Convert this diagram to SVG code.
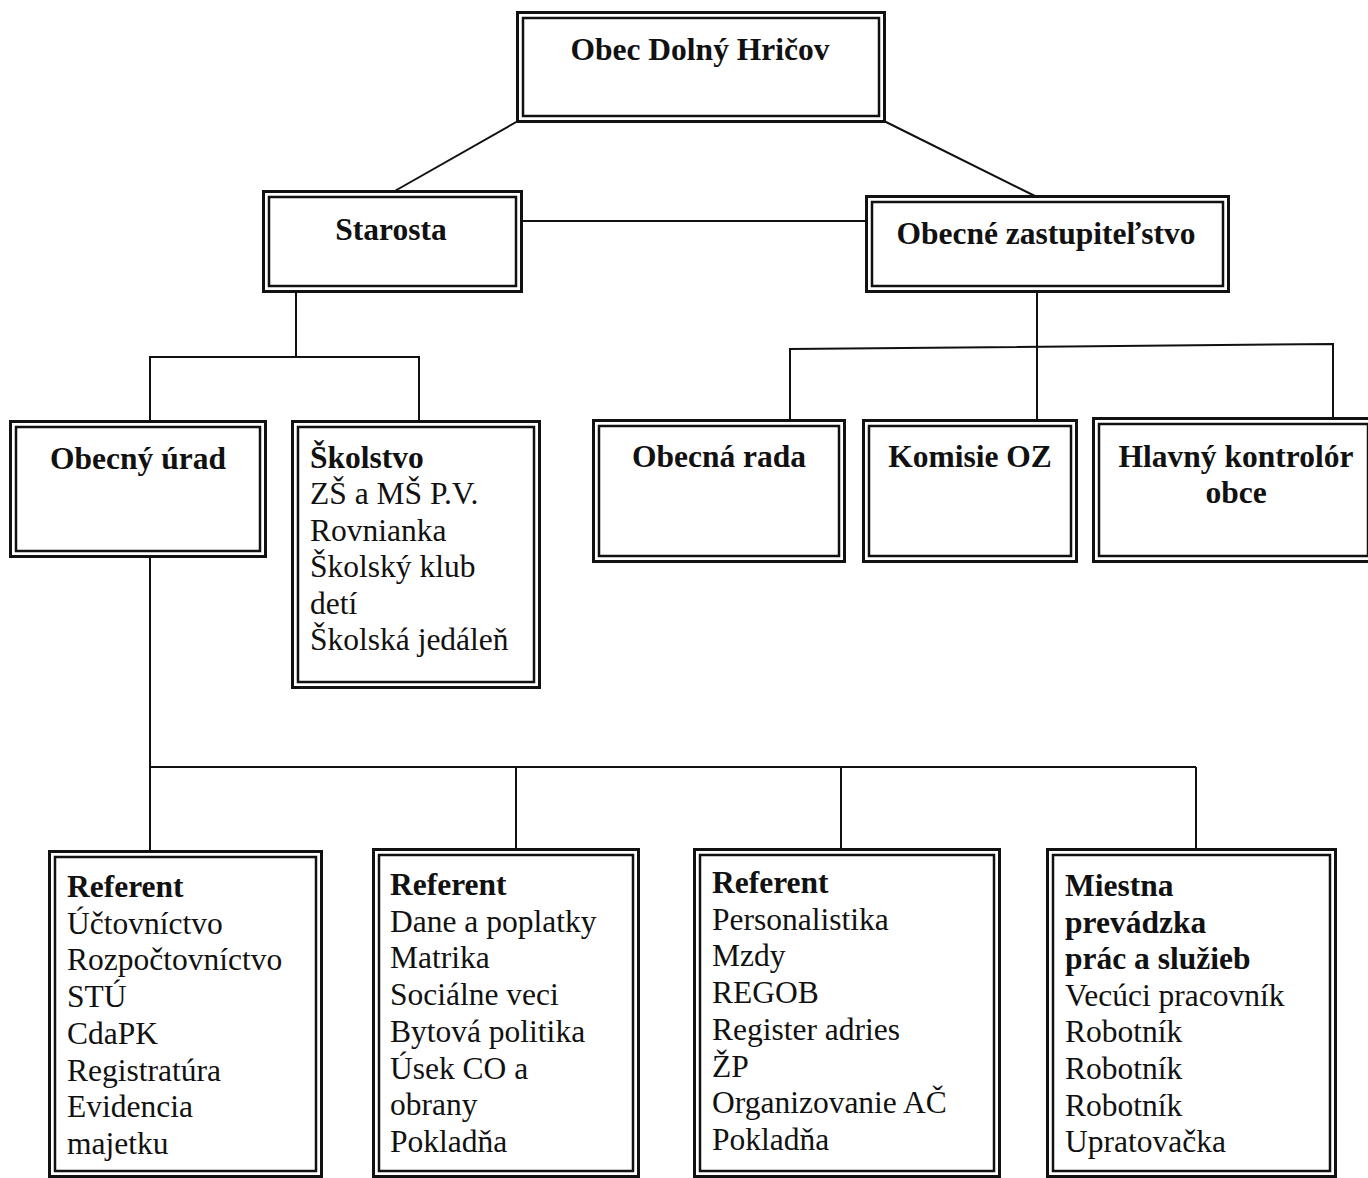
<svg xmlns="http://www.w3.org/2000/svg" width="1368" height="1178" viewBox="0 0 1368 1178">
<style>
.o{fill:none;stroke:#111;stroke-width:3}
.i{fill:none;stroke:#111;stroke-width:2.5}
.c{fill:none;stroke:#111;stroke-width:2}
text{font-family:"Liberation Serif","Times New Roman",serif;font-size:31.5px;fill:#111}
.b{font-weight:bold}
.m{text-anchor:middle}
</style>
<rect width="1368" height="1178" fill="#fff"/>
<g id="connectors">
<line class="c" x1="518" y1="121" x2="393" y2="192"/>
<line class="c" x1="884" y1="121" x2="1037" y2="197"/>
<line class="c" x1="523" y1="221" x2="865" y2="221"/>
<polyline class="c" points="296,292 296,357"/>
<polyline class="c" points="150,420 150,357 419,357 419,420"/>
<line class="c" x1="1037" y1="292" x2="1037" y2="419"/>
<polyline class="c" points="790,420 790,349 1333,344 1333,418"/>
<line class="c" x1="150" y1="557" x2="150" y2="850"/>
<line class="c" x1="150" y1="767" x2="1196" y2="767"/>
<line class="c" x1="516" y1="767" x2="516" y2="848"/>
<line class="c" x1="841" y1="767" x2="841" y2="848"/>
<line class="c" x1="1196" y1="767" x2="1196" y2="848"/>
</g>
<g id="obec">
<rect class="o" x="517.5" y="12.5" width="367" height="109"/>
<rect class="i" x="523" y="18" width="356" height="98"/>
<text class="b m" x="700" y="60">Obec Dolný Hričov</text>
</g>
<g id="starosta">
<rect class="o" x="263.5" y="191.5" width="258" height="100"/>
<rect class="i" x="269" y="197" width="247" height="89"/>
<text class="b m" x="391" y="240">Starosta</text>
</g>
<g id="zastupitelstvo">
<rect class="o" x="866.5" y="196.5" width="362" height="95"/>
<rect class="i" x="872" y="202" width="351" height="84"/>
<text class="b m" x="1046" y="244">Obecné zastupiteľstvo</text>
</g>
<g id="urad">
<rect class="o" x="10.5" y="421.5" width="255" height="135"/>
<rect class="i" x="16" y="427" width="244" height="124"/>
<text class="b m" x="138" y="469">Obecný úrad</text>
</g>
<g id="skolstvo">
<rect class="o" x="292.5" y="421.5" width="247" height="266"/>
<rect class="i" x="298" y="427" width="236" height="255"/>
<text x="310" y="468"><tspan class="b">Školstvo</tspan><tspan x="310" dy="36.4">ZŠ a MŠ P.V.</tspan><tspan x="310" dy="36.4">Rovnianka</tspan><tspan x="310" dy="36.4">Školský klub</tspan><tspan x="310" dy="36.4">detí</tspan><tspan x="310" dy="36.4">Školská jedáleň</tspan></text>
</g>
<g id="rada">
<rect class="o" x="593.5" y="420.5" width="251" height="141"/>
<rect class="i" x="599" y="426" width="240" height="130"/>
<text class="b m" x="719" y="467">Obecná rada</text>
</g>
<g id="komisie">
<rect class="o" x="863.5" y="420.5" width="213" height="141"/>
<rect class="i" x="869" y="426" width="202" height="130"/>
<text class="b m" x="970" y="467">Komisie OZ</text>
</g>
<g id="kontrolor">
<rect class="o" x="1093.5" y="418.5" width="280" height="143"/>
<rect class="i" x="1099" y="424" width="269" height="132"/>
<text class="b m" x="1236" y="467">Hlavný kontrolór<tspan x="1236" dy="36">obce</tspan></text>
</g>
<g id="referent1">
<rect class="o" x="49.5" y="851.5" width="272" height="325"/>
<rect class="i" x="55" y="857" width="261" height="314"/>
<text x="67" y="897"><tspan class="b">Referent</tspan><tspan x="67" dy="36.7">Účtovníctvo</tspan><tspan x="67" dy="36.7">Rozpočtovníctvo</tspan><tspan x="67" dy="36.7">STÚ</tspan><tspan x="67" dy="36.7">CdaPK</tspan><tspan x="67" dy="36.7">Registratúra</tspan><tspan x="67" dy="36.7">Evidencia</tspan><tspan x="67" dy="36.7">majetku</tspan></text>
</g>
<g id="referent2">
<rect class="o" x="373.5" y="849.5" width="265" height="327"/>
<rect class="i" x="379" y="855" width="254" height="316"/>
<text x="390" y="895"><tspan class="b">Referent</tspan><tspan x="390" dy="36.7">Dane a poplatky</tspan><tspan x="390" dy="36.7">Matrika</tspan><tspan x="390" dy="36.7">Sociálne veci</tspan><tspan x="390" dy="36.7">Bytová politika</tspan><tspan x="390" dy="36.7">Úsek CO a</tspan><tspan x="390" dy="36.7">obrany</tspan><tspan x="390" dy="36.7">Pokladňa</tspan></text>
</g>
<g id="referent3">
<rect class="o" x="694.5" y="849.5" width="305" height="327"/>
<rect class="i" x="700" y="855" width="294" height="316"/>
<text x="712" y="893"><tspan class="b">Referent</tspan><tspan x="712" dy="36.7">Personalistika</tspan><tspan x="712" dy="36.7">Mzdy</tspan><tspan x="712" dy="36.7">REGOB</tspan><tspan x="712" dy="36.7">Register adries</tspan><tspan x="712" dy="36.7">ŽP</tspan><tspan x="712" dy="36.7">Organizovanie AČ</tspan><tspan x="712" dy="36.7">Pokladňa</tspan></text>
</g>
<g id="prevadzka">
<rect class="o" x="1047.5" y="849.5" width="288" height="327"/>
<rect class="i" x="1053" y="855" width="277" height="316"/>
<text x="1065" y="896"><tspan class="b">Miestna</tspan><tspan class="b" x="1065" dy="36.6">prevádzka</tspan><tspan class="b" x="1065" dy="36.6">prác a služieb</tspan><tspan x="1065" dy="36.6">Vecúci pracovník</tspan><tspan x="1065" dy="36.6">Robotník</tspan><tspan x="1065" dy="36.6">Robotník</tspan><tspan x="1065" dy="36.6">Robotník</tspan><tspan x="1065" dy="36.6">Upratovačka</tspan></text>
</g>
</svg>
